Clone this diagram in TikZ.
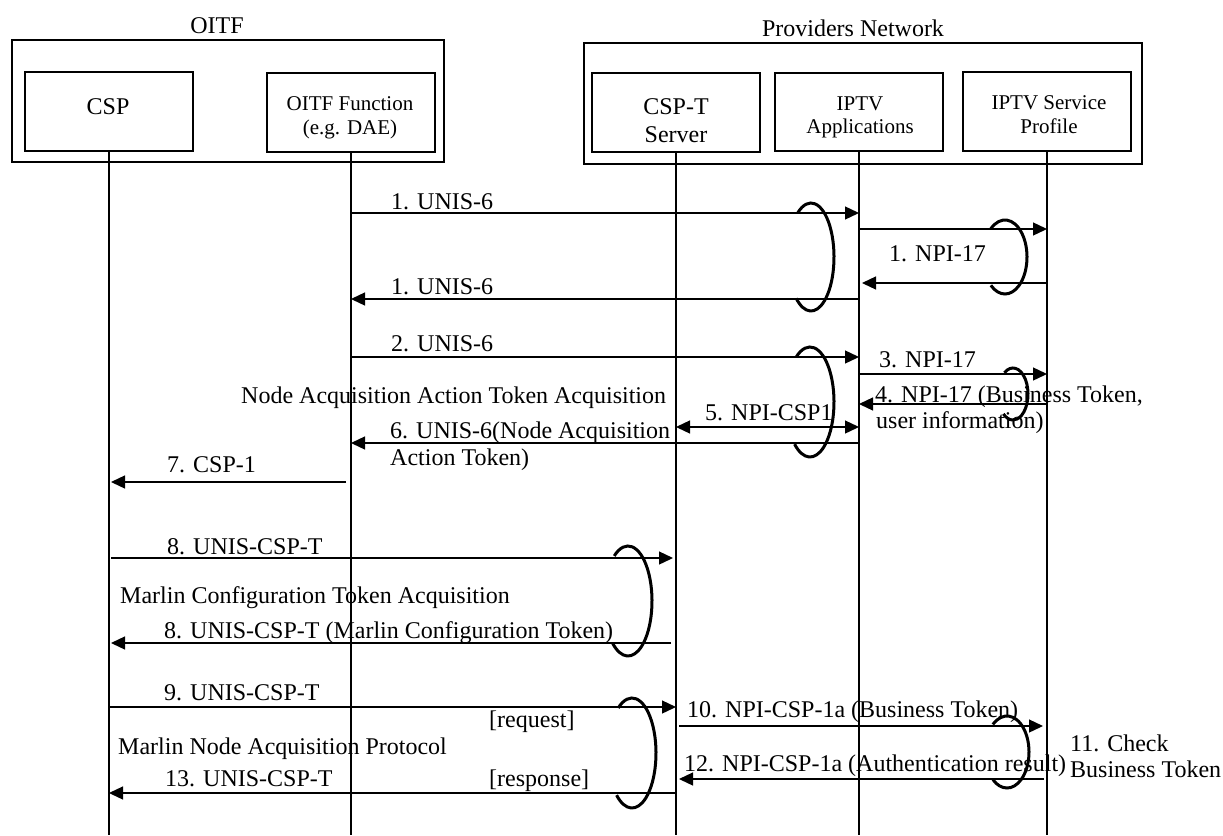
\documentclass[tikz,border=0pt]{standalone}
\usepackage{fontspec}
\setmainfont{Liberation Serif}
\usetikzlibrary{arrows.meta}
\begin{document}
\begin{tikzpicture}[x=1pt,y=-1pt,
  box/.style={draw, line width=1.6pt, inner sep=0pt},
  lbl/.style={anchor=base west, inner sep=0pt, font=\fontsize{24}{28}\selectfont},
  big/.style={anchor=base, inner sep=0pt, font=\fontsize{24}{28}\selectfont},
  small/.style={anchor=base, inner sep=0pt, font=\fontsize{21}{24}\selectfont},
  msg/.style={line width=1.3pt, -{Triangle[length=14pt,width=13pt]}},
  dmsg/.style={line width=1.3pt, {Triangle[length=14pt,width=13pt]}-{Triangle[length=14pt,width=13pt]}},
  life/.style={line width=1.3pt},
  loopc/.style={line width=3pt}]
\useasboundingbox (0,0) rectangle (1223,835);
\fill[white] (0,0) rectangle (1223,835);
% group boxes
\node[box, minimum width=432pt, minimum height=122pt] (oitf) at (228,101) {};
\node[box, minimum width=558pt, minimum height=121pt] (prov) at (863,103.5) {};
\node[big] (oitft) at (217,33) {OITF};
\node[big] (provt) at (853,36) {Providers Network};
% entity boxes
\node[box, minimum width=168pt, minimum height=79pt] (csp) at (109,111.5) {};
\node[box, minimum width=168pt, minimum height=79pt] (of) at (351,112.5) {};
\node[box, minimum width=168pt, minimum height=79pt] (ct) at (676,112.5) {};
\node[box, minimum width=168pt, minimum height=78pt] (ia) at (859,112) {};
\node[box, minimum width=168pt, minimum height=79pt] (sp) at (1047,111.5) {};
\node[big] (csptx) at (108,114) {CSP};
\node[small] (oft1) at (350,110) {OITF Function};
\node[small] (oft2) at (350,134) {(e.g. DAE)};
\node[big] (ctt1) at (676,114) {CSP-T};
\node[big] (ctt2) at (676,142) {Server};
\node[small] (iat1) at (860,110) {IPTV};
\node[small] (iat2) at (860,133) {Applications};
\node[small] (spt1) at (1049,109) {IPTV Service};
\node[small] (spt2) at (1049,133) {Profile};
% lifelines
\coordinate (bot) at (0,835);
\foreach \n in {csp,of,ct,ia,sp} \draw[life] (\n.south) -- (\n.south |- bot);
% rows
\coordinate (r1) at (0,213);
\coordinate (r2) at (0,229);
\coordinate (r3) at (0,283);
\coordinate (r4) at (0,299);
\coordinate (r5) at (0,357);
\coordinate (r6) at (0,374);
\coordinate (r7) at (0,404);
\coordinate (r8) at (0,427);
\coordinate (r9) at (0,443);
\coordinate (r10) at (0,482);
\coordinate (r11) at (0,558);
\coordinate (r12) at (0,643);
\coordinate (r13) at (0,707);
\coordinate (r14) at (0,726);
\coordinate (r15) at (0,779);
\coordinate (r16) at (0,793);
% messages
\draw[msg] (of |- r1) -- (ia |- r1);
\draw[msg] (ia |- r2) -- (sp |- r2);
\draw[msg, shorten >=3pt] (sp |- r3) -- (ia |- r3);
\draw[msg] (ia |- r4) -- (of |- r4);
\draw[msg] (of |- r5) -- (ia |- r5);
\draw[msg] (ia |- r6) -- (sp |- r6);
\draw[msg] (sp |- r7) -- (ia |- r7);
\draw[dmsg] (ct |- r8) -- (ia |- r8);
\draw[msg] (ia |- r9) -- (of |- r9);
\draw[msg, shorten <=5pt, shorten >=2pt] (of |- r10) -- (csp |- r10);
\draw[msg, shorten <=2pt, shorten >=3pt] (csp |- r11) -- (ct |- r11);
\draw[msg, shorten <=5pt, shorten >=2pt] (ct |- r12) -- (csp |- r12);
\draw[msg] (csp |- r13) -- (ct |- r13);
\draw[msg, shorten <=3pt, shorten >=4pt] (ct |- r14) -- (sp |- r14);
\draw[msg, shorten <=3pt, shorten >=3pt] (sp |- r15) -- (ct |- r15);
\draw[msg] (ct |- r16) -- (csp |- r16);
% loops
\coordinate (e1) at (811,257);
\coordinate (e2) at (810,402);
\coordinate (e3) at (1005,257);
\coordinate (e4) at (1013,394);
\coordinate (e5) at (628,601);
\coordinate (e6) at (632,753);
\coordinate (e7) at (1007,752);
\draw[loopc] (e1) ++(125:23pt and 54pt) arc[start angle=125, end angle=-130, x radius=23pt, y radius=54pt];
\draw[loopc] (e2) ++(125:24pt and 55pt) arc[start angle=125, end angle=-130, x radius=24pt, y radius=55pt];
\draw[loopc] (e3) ++(130:22pt and 37pt) arc[start angle=130, end angle=-130, x radius=22pt, y radius=37pt];
\draw[loopc] (e4) ++(125:15pt and 26pt) arc[start angle=125, end angle=-130, x radius=15pt, y radius=26pt];
\draw[loopc] (e5) ++(125:24pt and 55pt) arc[start angle=125, end angle=-130, x radius=24pt, y radius=55pt];
\draw[loopc] (e6) ++(125:24pt and 55pt) arc[start angle=125, end angle=-130, x radius=24pt, y radius=55pt];
\draw[loopc] (e7) ++(130:22pt and 36pt) arc[start angle=130, end angle=-130, x radius=22pt, y radius=36pt];
% labels
\node[lbl] (l1) at (391,209) {1. UNIS-6};
\node[lbl] (l2) at (889,261) {1. NPI-17};
\node[lbl] (l3) at (391,294) {1. UNIS-6};
\node[lbl] (l4) at (391,351) {2. UNIS-6};
\node[lbl] (l5) at (879,367) {3. NPI-17};
\node[lbl] (l6) at (241,403) {Node Acquisition Action Token Acquisition};
\node[lbl] (l7) at (875,402) {4. NPI-17 (Business Token,};
\node[lbl] (l8) at (876,428) {user information)};
\node[lbl] (l9) at (705,420) {5. NPI-CSP1};
\node[lbl] (l10) at (390,438) {6. UNIS-6(Node Acquisition};
\node[lbl] (l11) at (390,465) {Action Token)};
\node[lbl] (l12) at (167,472) {7. CSP-1};
\node[lbl] (l13) at (167,554) {8. UNIS-CSP-T};
\node[lbl] (l14) at (120,603) {Marlin Configuration Token Acquisition};
\node[lbl] (l15) at (164,638) {8. UNIS-CSP-T (Marlin Configuration Token)};
\node[lbl] (l16) at (164,700) {9. UNIS-CSP-T};
\node[lbl] (l17) at (489,727) {[request]};
\node[lbl] (l18) at (118,754) {Marlin Node Acquisition Protocol};
\node[lbl] (l19) at (165,786) {13. UNIS-CSP-T};
\node[lbl] (l20) at (489,786) {[response]};
\node[lbl] (l21) at (687,717) {10. NPI-CSP-1a (Business Token)};
\node[lbl] (l22) at (1070,751) {11. Check};
\node[lbl] (l23) at (1070,777) {Business Token};
\node[lbl] (l24) at (684,771) {12. NPI-CSP-1a (Authentication result)};
\end{tikzpicture}
\end{document}
